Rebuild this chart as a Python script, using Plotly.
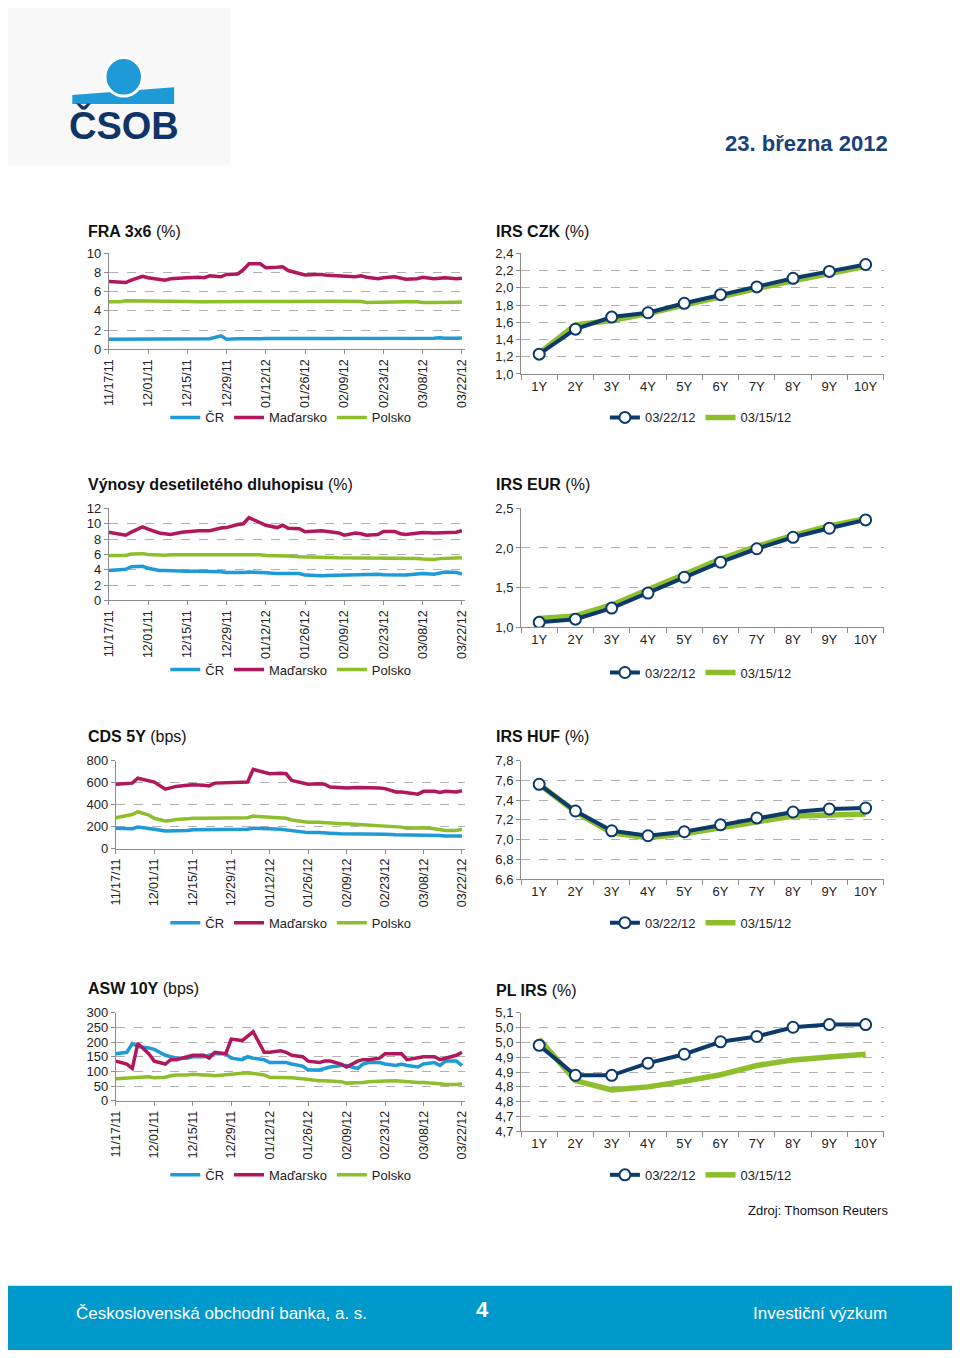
import plotly.graph_objects as go

# ---------------- data ----------------
DATES = ["2011-11-17", "2011-11-21", "2011-11-23", "2011-11-25", "2011-11-29", "2011-12-01",
         "2011-12-05", "2011-12-07", "2011-12-09", "2011-12-13", "2011-12-15", "2011-12-19",
         "2011-12-21", "2011-12-23", "2011-12-27", "2011-12-29", "2012-01-02", "2012-01-04",
         "2012-01-06", "2012-01-10", "2012-01-12", "2012-01-16", "2012-01-18", "2012-01-20",
         "2012-01-24", "2012-01-26", "2012-01-30", "2012-02-01", "2012-02-03", "2012-02-07",
         "2012-02-09", "2012-02-13", "2012-02-15", "2012-02-17", "2012-02-21", "2012-02-23",
         "2012-02-27", "2012-02-29", "2012-03-02", "2012-03-06", "2012-03-08", "2012-03-12",
         "2012-03-14", "2012-03-16", "2012-03-20", "2012-03-22"]
TICK_DATES = ["2011-11-17", "2011-12-01", "2011-12-15", "2011-12-29", "2012-01-12",
              "2012-01-26", "2012-02-09", "2012-02-23", "2012-03-08", "2012-03-22"]
COUNTRIES = ["ČR", "Maďarsko", "Polsko"]

FRA_CZ = [1.05, 1.05, 1.08, 1.10, 1.12, 1.08, 1.05, 1.05, 1.07, 1.05, 1.05, 1.05, 1.07, 1.10, 1.40, 1.05,
          1.10, 1.08, 1.10, 1.10, 1.12, 1.10, 1.12, 1.12, 1.12, 1.12, 1.12, 1.12, 1.12, 1.12, 1.12, 1.12,
          1.12, 1.10, 1.10, 1.12, 1.12, 1.12, 1.15, 1.15, 1.12, 1.15, 1.20, 1.15, 1.15, 1.18]
FRA_HU = [7.05, 6.95, 6.95, 7.20, 7.60, 7.45, 7.30, 7.20, 7.35, 7.45, 7.45, 7.50, 7.45, 7.65, 7.55, 7.80,
          7.85, 8.30, 8.90, 8.90, 8.50, 8.55, 8.60, 8.20, 7.95, 7.75, 7.80, 7.80, 7.70, 7.65, 7.65, 7.55,
          7.65, 7.50, 7.35, 7.45, 7.55, 7.45, 7.30, 7.35, 7.50, 7.35, 7.40, 7.45, 7.35, 7.40]
FRA_PL = [4.95, 4.95, 5.05, 5.05, 5.05, 5.00, 5.00, 4.98, 4.98, 4.97, 4.97, 4.95, 4.95, 4.95, 4.88, 4.95,
          4.95, 4.95, 4.97, 4.98, 5.00, 5.00, 4.98, 4.98, 5.00, 5.05, 5.05, 5.02, 5.00, 5.00, 5.00, 5.00,
          4.98, 4.88, 4.92, 4.95, 4.95, 4.95, 4.95, 4.95, 4.88, 4.87, 4.90, 4.92, 4.90, 4.92]

BOND_CZ = [3.90, 4.00, 4.05, 4.40, 4.45, 4.20, 3.90, 3.90, 3.85, 3.85, 3.80, 3.80, 3.80, 3.75, 3.75, 3.65,
           3.60, 3.65, 3.70, 3.70, 3.60, 3.50, 3.50, 3.55, 3.50, 3.30, 3.20, 3.20, 3.25, 3.30, 3.25, 3.30,
           3.35, 3.40, 3.40, 3.35, 3.30, 3.30, 3.30, 3.45, 3.50, 3.40, 3.60, 3.70, 3.65, 3.45]
BOND_HU = [8.90, 8.60, 8.50, 8.90, 9.60, 9.30, 8.80, 8.70, 8.60, 8.90, 9.00, 9.10, 9.10, 9.10, 9.45, 9.50,
           9.90, 10.00, 10.80, 10.10, 9.80, 9.50, 9.80, 9.40, 9.35, 8.95, 9.00, 9.10, 9.00, 8.80, 8.50, 8.80,
           8.70, 8.50, 8.60, 9.00, 9.00, 8.70, 8.60, 8.80, 8.85, 8.80, 8.80, 8.80, 8.90, 9.10]
BOND_PL = [5.85, 5.80, 5.85, 6.05, 6.10, 6.00, 5.90, 5.90, 5.95, 5.95, 5.95, 5.95, 5.90, 5.90, 5.90, 5.95,
           5.95, 6.00, 6.00, 5.95, 5.85, 5.85, 5.80, 5.80, 5.70, 5.70, 5.60, 5.60, 5.60, 5.55, 5.55, 5.55,
           5.55, 5.55, 5.55, 5.55, 5.55, 5.50, 5.45, 5.45, 5.40, 5.35, 5.45, 5.50, 5.50, 5.55]

CDS_CZ = [185, 180, 180, 195, 185, 175, 160, 160, 165, 165, 170, 170, 170, 170, 170, 170,
          170, 175, 185, 185, 180, 175, 170, 160, 155, 145, 145, 140, 140, 135, 135, 135,
          135, 135, 130, 130, 125, 125, 125, 120, 122, 120, 118, 115, 115, 115]
CDS_HU = [585, 590, 595, 640, 615, 605, 540, 555, 565, 575, 580, 575, 570, 595, 600, 600,
          610, 605, 720, 695, 680, 685, 680, 620, 600, 585, 590, 585, 560, 555, 550, 555,
          555, 550, 550, 545, 515, 515, 510, 495, 520, 520, 510, 520, 515, 525]
CDS_PL = [280, 295, 310, 335, 305, 275, 250, 255, 265, 270, 275, 275, 275, 275, 275, 275,
          275, 280, 295, 290, 280, 275, 275, 260, 250, 240, 240, 235, 230, 225, 225, 220,
          215, 210, 205, 200, 200, 195, 185, 185, 190, 180, 170, 165, 165, 175]

ASW_CZ = [160, 165, 195, 185, 180, 175, 155, 150, 145, 145, 150, 150, 155, 160, 160, 145,
          140, 150, 145, 140, 130, 130, 130, 125, 118, 105, 105, 110, 115, 120, 120, 110,
          125, 130, 130, 125, 120, 125, 120, 115, 125, 130, 120, 135, 135, 120]
ASW_HU = [135, 125, 110, 195, 160, 135, 125, 140, 140, 150, 155, 155, 145, 165, 160, 210,
          205, 220, 235, 165, 165, 170, 165, 155, 150, 135, 130, 135, 135, 125, 115, 135,
          140, 140, 145, 160, 160, 160, 140, 145, 150, 150, 140, 145, 155, 165]
ASW_PL = [75, 78, 80, 80, 82, 78, 80, 85, 88, 88, 90, 88, 88, 85, 88, 90,
          95, 95, 93, 88, 80, 80, 80, 78, 75, 72, 68, 68, 66, 65, 60, 60,
          62, 65, 68, 67, 68, 66, 64, 62, 62, 60, 58, 55, 55, 58]

TENORS = ["1Y", "2Y", "3Y", "4Y", "5Y", "6Y", "7Y", "8Y", "9Y", "10Y"]
CURVE_DATES = ["03/22/12", "03/15/12"]
IRS_CZK_NOW = [1.23, 1.52, 1.66, 1.71, 1.82, 1.92, 2.01, 2.11, 2.19, 2.27]
IRS_CZK_PREV = [1.24, 1.57, 1.62, 1.70, 1.80, 1.90, 1.99, 2.08, 2.16, 2.25]
IRS_EUR_NOW = [1.06, 1.10, 1.24, 1.43, 1.63, 1.82, 1.99, 2.135, 2.25, 2.355]
IRS_EUR_PREV = [1.11, 1.14, 1.28, 1.47, 1.66, 1.86, 2.02, 2.16, 2.28, 2.37]
IRS_HUF_NOW = [7.56, 7.29, 7.09, 7.04, 7.08, 7.15, 7.22, 7.28, 7.31, 7.32]
IRS_HUF_PREV = [7.56, 7.28, 7.07, 7.02, 7.06, 7.12, 7.19, 7.24, 7.25, 7.26]
PL_IRS_NOW = [4.99, 4.889, 4.889, 4.93, 4.96, 5.002, 5.02, 5.051, 5.06, 5.06]
PL_IRS_PREV = [5.011, 4.871, 4.84, 4.85, 4.869, 4.891, 4.922, 4.941, 4.951, 4.96]
PL_TICK_VALS = [4.70, 4.75, 4.80, 4.85, 4.90, 4.95, 5.00, 5.05, 5.10]
PL_TICK_TEXT = ["4,7", "4,7", "4,8", "4,8", "4,9", "4,9", "5,0", "5,0", "5,1"]

# ---------------- layout helpers ----------------
# The page body keeps the browser's default 8px margin, so the figure is made
# 16px smaller and every page position is shifted by that margin.
PAGE_W, PAGE_H, BODY_M = 960, 1358, 8
W, H = PAGE_W - 2 * BODY_M, PAGE_H - 2 * BODY_M
FONT = "Liberation Sans, Arial, sans-serif"
C_CZ, C_HU, C_PL = "#1E9AD6", "#B0175D", "#8DBE2B"
C_NAVY, C_GREEN = "#0B3A6B", "#8DBF2C"
GRID = "#b0b0b0"
AXIS = "#8c8c8c"


def X(p):
    return (p - BODY_M) / W


def Y(p):
    return 1 - (p - BODY_M) / H


fig = go.Figure()
layout = dict(width=W, height=H, margin=dict(l=0, r=0, t=0, b=0), autosize=False,
              paper_bgcolor="white", plot_bgcolor="white", separators=", ",
              font=dict(family=FONT, size=13, color="#222"), showlegend=True)

ts_charts = [
    ("FRA 3x6", "(%)", (FRA_CZ, FRA_HU, FRA_PL), (103, 463, 249, 346), (0, 10, 2), 227, 415),
    ("Výnosy desetiletého dluhopisu", "(%)", (BOND_CZ, BOND_HU, BOND_PL), (103, 463, 507, 600), (0, 12, 2), 483, 670),
    ("CDS 5Y", "(bps)", (CDS_CZ, CDS_HU, CDS_PL), (110, 463, 762, 851), (0, 800, 200), 738, 926),
    ("ASW 10Y", "(bps)", (ASW_CZ, ASW_HU, ASW_PL), (110, 463, 1017, 1106), (0, 300, 50), 993, 1181),
]
irs_charts = [
    ("IRS CZK", "(%)", (IRS_CZK_NOW, IRS_CZK_PREV), (520, 887, 249, 371), (1.0, 2.4, 0.2), 227, 415),
    ("IRS EUR", "(%)", (IRS_EUR_NOW, IRS_EUR_PREV), (520, 887, 507, 627), (1.0, 2.5, 0.5), 483, 673),
    ("IRS HUF", "(%)", (IRS_HUF_NOW, IRS_HUF_PREV), (520, 887, 762, 882), (6.6, 7.8, 0.2), 738, 926),
    ("PL IRS", "(%)", (PL_IRS_NOW, PL_IRS_PREV), (520, 887, 1017, 1137), (4.7, 5.1, None), 995, 1181),
]

annotations = []
shapes = []


def yaxis_style(box, yr, anchor):
    x0, x1, yt, yb = box
    d = dict(domain=[Y(yb), Y(yt)], anchor=anchor, range=[yr[0], yr[1]],
             showline=True, linecolor=AXIS, linewidth=1, ticks="outside", ticklen=4,
             tickcolor=AXIS, showgrid=True, gridcolor=GRID, griddash="dash", gridwidth=1,
             zeroline=False, tickfont=dict(size=13, color="#222"), fixedrange=True)
    return d


def title(text_b, text_n, x, y):
    annotations.append(dict(text="<b>%s</b> %s" % (text_b, text_n), x=X(x), y=Y(y),
                            xref="paper", yref="paper", xanchor="left", yanchor="middle",
                            showarrow=False, font=dict(size=16, color="#111")))


n = 0
for (tb, tn, series, box, yr, ty, ly) in ts_charts:
    n += 1
    x0, x1, yt, yb = box
    xa, ya = ("xaxis%d" % n if n > 1 else "xaxis"), ("yaxis%d" % n if n > 1 else "yaxis")
    xr, yref = ("x%d" % n if n > 1 else "x"), ("y%d" % n if n > 1 else "y")
    lg = "legend%d" % n if n > 1 else "legend"
    layout[xa] = dict(domain=[X(x0), X(x1)], anchor=yref, type="date",
                      range=["2011-11-17", "2012-03-23"], tickvals=TICK_DATES,
                      tickformat="%m/%d/%y", tickangle=-90, ticks="outside", ticklen=4,
                      tickcolor=AXIS, showline=True, linecolor=AXIS, showgrid=False,
                      zeroline=False, tickfont=dict(size=12.5, color="#222"), fixedrange=True)
    ys = yaxis_style(box, yr, xr)
    ys["tickvals"] = list(range(yr[0], yr[1] + 1, yr[2]))
    layout[ya] = ys
    for name, vals, col in zip(COUNTRIES, series, (C_CZ, C_HU, C_PL)):
        fig.add_trace(go.Scatter(x=DATES, y=vals, name=name, mode="lines",
                                 line=dict(color=col, width=3.5), xaxis=xr, yaxis=yref,
                                 legend=lg, hoverinfo="skip"))
    layout[lg] = dict(orientation="h", x=X(287), y=Y(ly), xanchor="center", yanchor="middle",
                      font=dict(size=13, color="#222"), bgcolor="rgba(0,0,0,0)",
                      itemwidth=30, tracegroupgap=0)
    title(tb, tn, 80, ty)

for (tb, tn, series, box, yr, ty, ly) in irs_charts:
    n += 1
    x0, x1, yt, yb = box
    xa, ya = "xaxis%d" % n, "yaxis%d" % n
    xr, yref = "x%d" % n, "y%d" % n
    lg = "legend%d" % n
    layout[xa] = dict(domain=[X(x0), X(x1)], anchor=yref, type="category",
                      range=[-0.5, len(TENORS) - 0.5], tickson="boundaries", ticks="outside",
                      ticklen=5, tickcolor=AXIS, showline=True, linecolor=AXIS, showgrid=False,
                      zeroline=False, tickfont=dict(size=13, color="#222"), fixedrange=True)
    ys = yaxis_style(box, (yr[0] - 1e-9, yr[1] + 1e-9), xr)
    if yr[2] is None:
        ys["tickvals"] = PL_TICK_VALS
        ys["ticktext"] = PL_TICK_TEXT
    else:
        steps = int(round((yr[1] - yr[0]) / yr[2]))
        ys["tickvals"] = [round(yr[0] + i * yr[2], 2) for i in range(steps + 1)]
        ys["tickformat"] = ".1f"
    layout[ya] = ys
    now, prev = series
    fig.add_trace(go.Scatter(x=TENORS, y=prev, name=CURVE_DATES[1], mode="lines",
                             line=dict(color=C_GREEN, width=5.5), xaxis=xr, yaxis=yref,
                             legend=lg, legendrank=2, hoverinfo="skip"))
    fig.add_trace(go.Scatter(x=TENORS, y=now, name=CURVE_DATES[0], mode="lines+markers",
                             line=dict(color=C_NAVY, width=4),
                             marker=dict(size=11, color="white", line=dict(color=C_NAVY, width=2)),
                             xaxis=xr, yaxis=yref, legend=lg, legendrank=1, hoverinfo="skip"))
    layout[lg] = dict(orientation="h", x=X(702), y=Y(ly), xanchor="center", yanchor="middle",
                      font=dict(size=13, color="#222"), bgcolor="rgba(0,0,0,0)",
                      itemwidth=30, tracegroupgap=0)
    title(tb, tn, 493, ty)

# ---------------- header / footer ----------------
shapes.append(dict(type="rect", xref="paper", yref="paper", x0=X(0), x1=X(226), y0=Y(160), y1=Y(0),
                   fillcolor="#f8f8f8", line=dict(width=0), layer="below"))
band = "M %f %f L %f %f L %f %f L %f %f Z" % (X(66), Y(89), X(169), Y(81), X(169), Y(98), X(66), Y(98))
shapes.append(dict(type="path", xref="paper", yref="paper", path=band,
                   fillcolor="#1E9AD6", line=dict(width=0)))
shapes.append(dict(type="circle", xref="paper", yref="paper", x0=X(99), x1=X(137), y0=Y(90), y1=Y(51),
                   fillcolor="#1E9AD6", line=dict(color="white", width=3)))
annotations.append(dict(text="<b>ČSOB</b>", x=X(118), y=Y(119), xref="paper", yref="paper",
                        xanchor="center", yanchor="middle", showarrow=False,
                        font=dict(size=38, color="#0E3468", family=FONT)))
annotations.append(dict(text="<b>23. března 2012</b>", x=X(893), y=Y(138), xref="paper", yref="paper",
                        xanchor="right", yanchor="middle", showarrow=False,
                        font=dict(size=22, color="#17427A")))
annotations.append(dict(text="Zdroj: Thomson Reuters", x=X(893), y=Y(1217), xref="paper", yref="paper",
                        xanchor="right", yanchor="middle", showarrow=False,
                        font=dict(size=13, color="#111")))
shapes.append(dict(type="rect", xref="paper", yref="paper", x0=X(0), x1=X(PAGE_W), y0=Y(PAGE_H), y1=Y(1293),
                   fillcolor="#0099CC", line=dict(width=0)))
annotations.append(dict(text="Československá obchodní banka, a. s.", x=X(68), y=Y(1321), xref="paper",
                        yref="paper", xanchor="left", yanchor="middle", showarrow=False,
                        font=dict(size=17, color="white")))
annotations.append(dict(text="<b>4</b>", x=X(481), y=Y(1317), xref="paper", yref="paper",
                        xanchor="center", yanchor="middle", showarrow=False,
                        font=dict(size=22, color="white")))
annotations.append(dict(text="Investiční výzkum", x=X(892), y=Y(1321), xref="paper", yref="paper",
                        xanchor="right", yanchor="middle", showarrow=False,
                        font=dict(size=17, color="white")))

layout["annotations"] = annotations
layout["shapes"] = shapes
fig.update_layout(**layout)
fig.write_html("out.html")
